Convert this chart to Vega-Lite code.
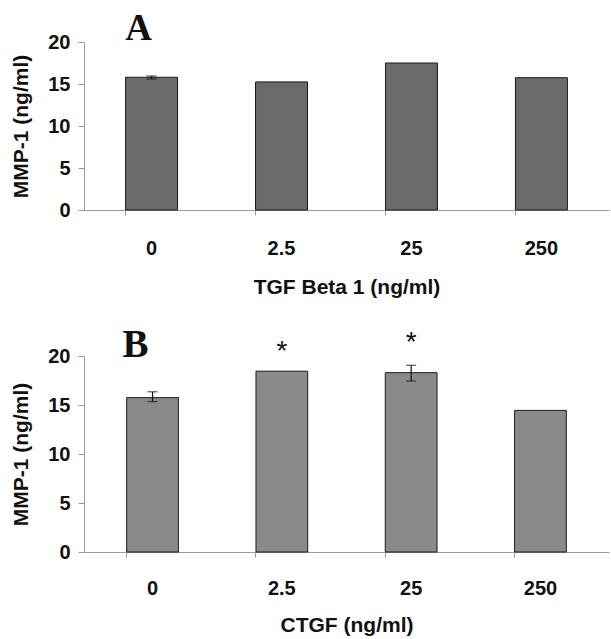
{
  "$schema": "https://vega.github.io/schema/vega-lite/v6.json",
  "background": "white",
  "padding": {"left": 10, "top": 9, "right": 2, "bottom": 5},
  "spacing": 28,
  "config": {
    "view": {"stroke": null},
    "axis": {
      "grid": false,
      "labelFont": "Liberation Sans",
      "labelFontWeight": "bold",
      "labelFontSize": 20,
      "labelColor": "#111111",
      "titleFont": "Liberation Sans",
      "titleFontWeight": "bold",
      "titleFontSize": 21,
      "titleColor": "#111111",
      "domainColor": "#9a9a9a",
      "tickColor": "#9a9a9a"
    }
  },
  "datasets": {
    "tgf": [
      {"conc": "0", "mmp": 15.8},
      {"conc": "2.5", "mmp": 15.25},
      {"conc": "25", "mmp": 17.5},
      {"conc": "250", "mmp": 15.75}
    ],
    "tgfErr": [
      {"conc": "0", "lo": 15.6, "hi": 15.95}
    ],
    "tgfText": [
      {"conc": "0", "y": 20.27, "t": "A"}
    ],
    "ctgf": [
      {"conc": "0", "mmp": 15.75},
      {"conc": "2.5", "mmp": 18.45},
      {"conc": "25", "mmp": 18.3},
      {"conc": "250", "mmp": 14.45}
    ],
    "ctgfErr": [
      {"conc": "0", "lo": 15.35, "hi": 16.35},
      {"conc": "25", "lo": 17.45, "hi": 19.05}
    ],
    "ctgfText": [
      {"conc": "0", "y": 19.9, "t": "B"}
    ],
    "stars": [
      {"conc": "2.5", "y": 19.6, "t": "*"},
      {"conc": "25", "y": 20.5, "t": "*"}
    ]
  },
  "vconcat": [
    {
      "width": 525,
      "height": 168,
      "resolve": {"axis": {"x": "independent"}},
      "layer": [
        {
          "data": {"name": "tgf"},
          "mark": {"type": "bar", "fill": "#6b6b6b", "stroke": "#1a1a1a", "strokeWidth": 1},
          "encoding": {
            "x": {"field": "conc", "type": "nominal", "sort": ["0", "2.5", "25", "250"],
              "scale": {"paddingInner": 0.6, "paddingOuter": 0.32},
              "axis": {"orient": "bottom", "ticks": false, "labelAngle": 0, "labelPadding": 28, "titlePadding": 18, "title": "TGF Beta 1 (ng/ml)"}},
            "y": {"field": "mmp", "type": "quantitative", "scale": {"domain": [0, 20]},
              "axis": {"values": [0, 5, 10, 15, 20], "tickSize": 6, "labelPadding": 8, "titlePadding": 16, "title": "MMP-1 (ng/ml)"}}
          }
        },
        {
          "data": {"name": "tgfErr"},
          "mark": {"type": "rule", "color": "#111111", "strokeWidth": 1.2},
          "encoding": {
            "x": {"field": "conc", "type": "nominal", "sort": ["0", "2.5", "25", "250"],
              "axis": {"orient": "bottom", "bandPosition": 0, "labels": false, "domain": false, "ticks": true, "tickSize": 5, "title": null}},
            "y": {"field": "lo", "type": "quantitative", "title": "MMP-1 (ng/ml)"},
            "y2": {"field": "hi"}
          }
        },
        {
          "data": {"name": "tgfErr"},
          "mark": {"type": "tick", "color": "#111111", "size": 10, "thickness": 1.2},
          "encoding": {
            "x": {"field": "conc", "type": "nominal", "sort": ["0", "2.5", "25", "250"], "axis": null},
            "y": {"field": "lo", "type": "quantitative", "title": "MMP-1 (ng/ml)"}
          }
        },
        {
          "data": {"name": "tgfErr"},
          "mark": {"type": "tick", "color": "#111111", "size": 10, "thickness": 1.2},
          "encoding": {
            "x": {"field": "conc", "type": "nominal", "sort": ["0", "2.5", "25", "250"], "axis": null},
            "y": {"field": "hi", "type": "quantitative", "title": "MMP-1 (ng/ml)"}
          }
        },
        {
          "data": {"name": "tgfText"},
          "mark": {"type": "text", "font": "Liberation Serif", "fontWeight": "bold", "fontSize": 37, "baseline": "alphabetic", "align": "center", "dx": -13, "color": "#111111"},
          "encoding": {
            "x": {"field": "conc", "type": "nominal", "sort": ["0", "2.5", "25", "250"], "axis": null},
            "y": {"field": "y", "type": "quantitative", "title": "MMP-1 (ng/ml)"},
            "text": {"field": "t"}
          }
        }
      ]
    },
    {
      "width": 525,
      "height": 196,
      "resolve": {"axis": {"x": "independent"}},
      "layer": [
        {
          "data": {"name": "ctgf"},
          "mark": {"type": "bar", "fill": "#8a8a8a", "stroke": "#1a1a1a", "strokeWidth": 1},
          "encoding": {
            "x": {"field": "conc", "type": "nominal", "sort": ["0", "2.5", "25", "250"],
              "scale": {"paddingInner": 0.6, "paddingOuter": 0.33},
              "axis": {"orient": "bottom", "ticks": false, "labelAngle": 0, "labelPadding": 26, "titlePadding": 16, "title": "CTGF (ng/ml)"}},
            "y": {"field": "mmp", "type": "quantitative", "scale": {"domain": [0, 20]},
              "axis": {"values": [0, 5, 10, 15, 20], "tickSize": 6, "labelPadding": 8, "titlePadding": 16, "title": "MMP-1 (ng/ml)"}}
          }
        },
        {
          "data": {"name": "ctgfErr"},
          "mark": {"type": "rule", "color": "#111111", "strokeWidth": 1.2},
          "encoding": {
            "x": {"field": "conc", "type": "nominal", "sort": ["0", "2.5", "25", "250"],
              "axis": {"orient": "bottom", "bandPosition": 0, "labels": false, "domain": false, "ticks": true, "tickSize": 5, "title": null}},
            "y": {"field": "lo", "type": "quantitative", "title": "MMP-1 (ng/ml)"},
            "y2": {"field": "hi"}
          }
        },
        {
          "data": {"name": "ctgfErr"},
          "mark": {"type": "tick", "color": "#111111", "size": 10, "thickness": 1.2},
          "encoding": {
            "x": {"field": "conc", "type": "nominal", "sort": ["0", "2.5", "25", "250"], "axis": null},
            "y": {"field": "lo", "type": "quantitative", "title": "MMP-1 (ng/ml)"}
          }
        },
        {
          "data": {"name": "ctgfErr"},
          "mark": {"type": "tick", "color": "#111111", "size": 10, "thickness": 1.2},
          "encoding": {
            "x": {"field": "conc", "type": "nominal", "sort": ["0", "2.5", "25", "250"], "axis": null},
            "y": {"field": "hi", "type": "quantitative", "title": "MMP-1 (ng/ml)"}
          }
        },
        {
          "data": {"name": "ctgfText"},
          "mark": {"type": "text", "font": "Liberation Serif", "fontWeight": "bold", "fontSize": 39, "baseline": "alphabetic", "align": "center", "dx": -17, "color": "#111111"},
          "encoding": {
            "x": {"field": "conc", "type": "nominal", "sort": ["0", "2.5", "25", "250"], "axis": null},
            "y": {"field": "y", "type": "quantitative", "title": "MMP-1 (ng/ml)"},
            "text": {"field": "t"}
          }
        },
        {
          "data": {"name": "stars"},
          "mark": {"type": "text", "font": "Liberation Sans", "fontSize": 28, "baseline": "alphabetic", "align": "center", "color": "#111111"},
          "encoding": {
            "x": {"field": "conc", "type": "nominal", "sort": ["0", "2.5", "25", "250"], "axis": null},
            "y": {"field": "y", "type": "quantitative", "title": "MMP-1 (ng/ml)"},
            "text": {"field": "t"}
          }
        }
      ]
    }
  ]
}
